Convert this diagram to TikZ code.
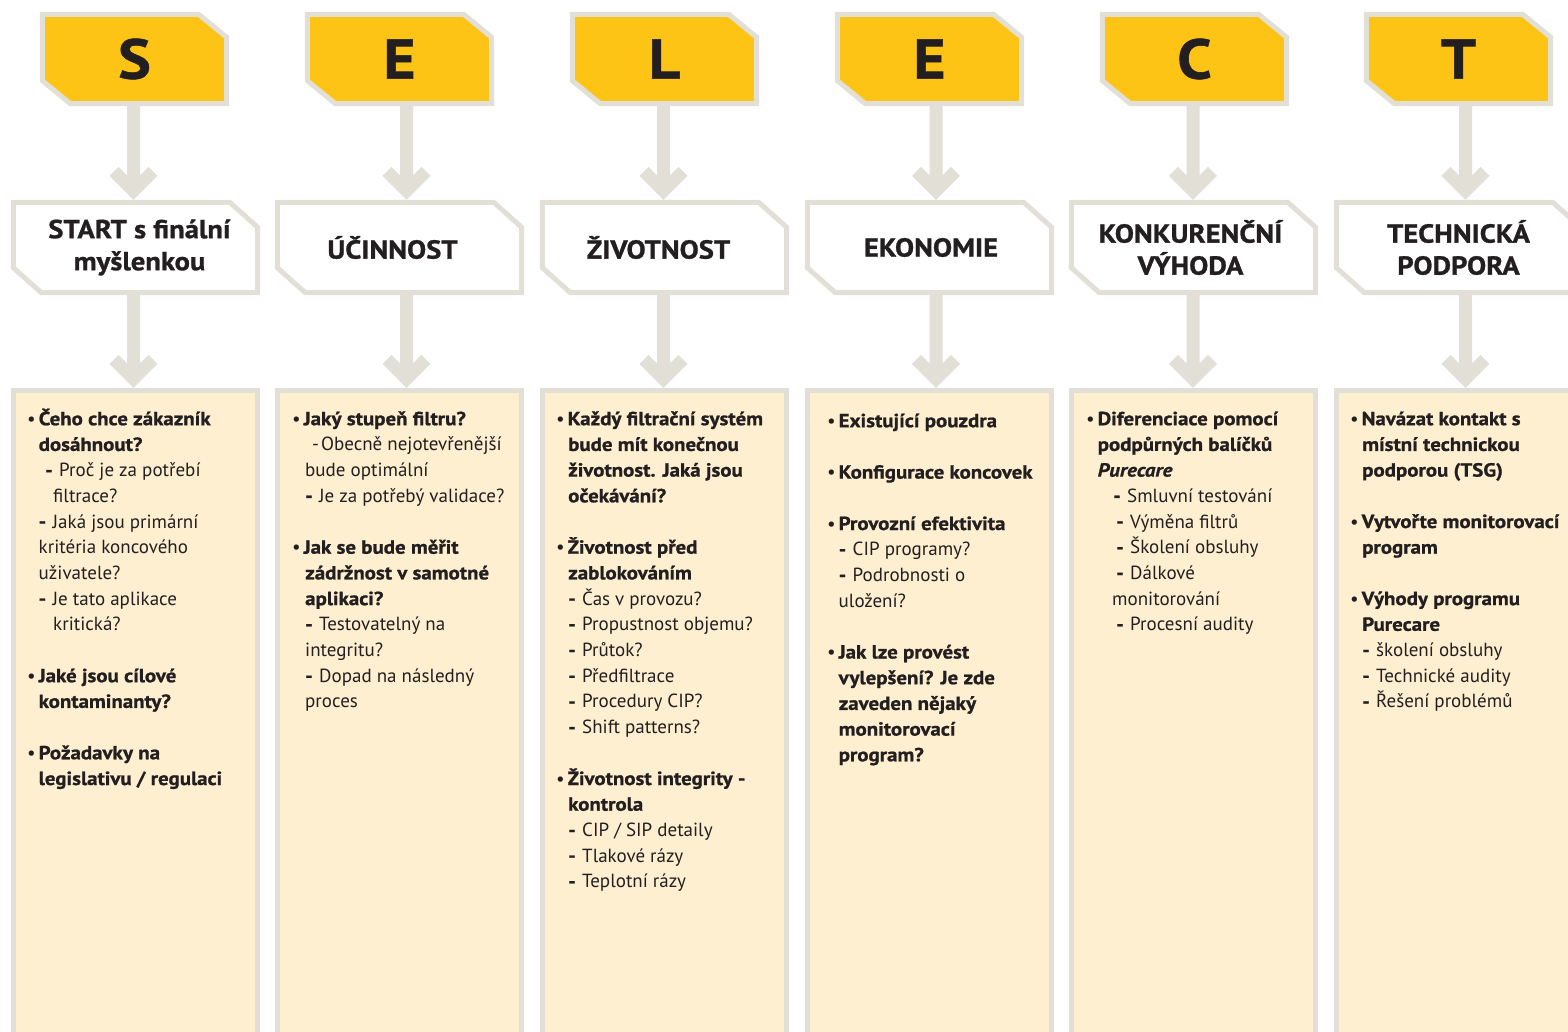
\documentclass[tikz,border=0pt]{standalone}
\usepackage{fontspec}
\setmainfont{PT Sans}[BoldFeatures={FakeStretch=1.1,FakeBold=1},BoldItalicFeatures={FakeStretch=1.1,FakeBold=1}]
\usetikzlibrary{calc}
\definecolor{selgray}{HTML}{E2DFD6}
\definecolor{selyellow}{HTML}{FDC315}
\definecolor{selcream}{HTML}{FEEFD1}
\definecolor{seltext}{HTML}{231F20}
\pgfdeclarelayer{bg}
\pgfsetlayers{bg,main}
\tikzset{
 hdrnode/.style={minimum width=189pt, minimum height=94pt, inner sep=0pt, font=\fontsize{56}{60}\selectfont\bfseries, text=seltext},
 titlenode/.style={minimum width=249pt, minimum height=95pt, inner sep=0pt, align=center, font=\fontsize{26}{32}\selectfont\bfseries, text=seltext},
 bodynode/.style={minimum width=249pt, minimum height=662pt, inner sep=0pt},
 listnode/.style={anchor=north west, inner sep=0pt, align=left, font=\fontsize{19}{25.7}\selectfont, text=seltext},
 hdrshape/.style={fill=selyellow, draw=selgray, line width=5pt},
 titleshape/.style={fill=white, draw=selgray, line width=5pt},
 bodyshape/.style={fill=selcream, draw=selgray, line width=5pt},
 connector/.style={fill=selgray},
}
\newcommand\selchamfer[4]{\draw[#1] ($(#2.north west)+(2.5,2.5)$) -- ($(#2.north east)+(-2.5-#3,2.5)$) -- ($(#2.north east)+(-2.5,2.5+#4)$) -- ($(#2.south east)+(-2.5,-2.5)$) -- ($(#2.south west)+(2.5+#3,-2.5)$) -- ($(#2.south west)+(2.5,-2.5-#4)$) -- cycle;}
\newcommand\selarrow[3]{\fill[connector] let \p1=(#2.south), \p2=(#3.north) in
  (#1pt-6.5pt,\y1) -- (#1pt-6.5pt,\y2+24.5pt) -- (#1pt-15pt,\y2+33pt) -- (#1pt-24pt,\y2+24pt) -- (#1pt,\y2) -- (#1pt+24pt,\y2+24pt) -- (#1pt+15pt,\y2+33pt) -- (#1pt+6.5pt,\y2+24.5pt) -- (#1pt+6.5pt,\y1) -- cycle;}
\newcommand\bu{\makebox[11.5pt][l]{•}}
\newcommand\ind[1]{\hspace*{#1pt}}
\newcommand\dsh{\makebox[14pt][l]{\textbf{-}}}
\newcommand\fst{\rule{0pt}{20pt}}
\begin{document}
\begin{tikzpicture}[x=1pt,y=-1pt]
\useasboundingbox (0,0) rectangle (1568,1032);
% headers
\node[hdrnode] (h1) at (134.5,59) {S};
\node[hdrnode] (h2) at (399.5,59) {E};
\node[hdrnode] (h3) at (664.5,59) {L};
\node[hdrnode] (h4) at (929.5,59) {E};
\node[hdrnode] (h5) at (1194.5,59) {C};
\node[hdrnode] (h6) at (1458.5,59) {T};
% titles
\node[titlenode] (w1) at (135.5,247.5) {\hspace*{8pt}START s finální\\\hspace*{8pt}myšlenkou};
\node[titlenode] (w2) at (399.5,247.5) {\hspace*{-14pt}ÚČINNOST};
\node[titlenode] (w3) at (664.5,247.5) {\hspace*{-12pt}ŽIVOTNOST};
\node[titlenode] (w4) at (929.5,247.5) {\hspace*{3pt}EKONOMIE};
\node[titlenode] (w5) at (1193.5,247.5) {\hspace*{-6pt}KONKURENČNÍ\\\hspace*{-6pt}VÝHODA};
\node[titlenode] (w6) at (1458.5,247.5) {TECHNICKÁ\\PODPORA};
% bodies
\node[bodynode] (b1) at (135.5,719) {};
\node[bodynode] (b2) at (399.5,719) {};
\node[bodynode] (b3) at (664.5,719) {};
\node[bodynode] (b4) at (929.5,719) {};
\node[bodynode] (b5) at (1193.5,719) {};
\node[bodynode] (b6) at (1458.5,719) {};
% lists
\node[listnode] (t1) at (27,405) {\fst\bu\textbf{Čeho chce zákazník}\\
\ind{11.5}\textbf{dosáhnout?}\\
\ind{18}\dsh Proč je za potřebí\\
\ind{26}filtrace?\\
\ind{11.5}\dsh Jaká jsou primární\\
\ind{11.5}kritéria koncového\\
\ind{11.5}uživatele?\\
\ind{11.5}\dsh Je tato aplikace\\
\ind{26}kritická?\\[25.7pt]
\bu\textbf{Jaké jsou cílové}\\
\ind{11.5}\textbf{kontaminanty?}\\[25.7pt]
\bu\textbf{Požadavky na}\\
\ind{11.5}\textbf{legislativu / regulaci}};
\node[listnode] (t2) at (292,405) {\fst\bu\textbf{Jaký stupeň filtru?}\\
\ind{20}-\hspace{2pt}Obecně nejotevřenější\\
\ind{13}bude optimální\\
\ind{13}\dsh Je za potřebý validace?\\[25.7pt]
\bu\textbf{Jak se bude měřit}\\
\ind{13}\textbf{zádržnost v samotné}\\
\ind{13}\textbf{aplikaci?}\\
\ind{13}\dsh Testovatelný na\\
\ind{13}integritu?\\
\ind{13}\dsh Dopad na následný\\
\ind{13}proces};
\node[listnode] (t3) at (556,405) {\fst\bu\textbf{Každý filtrační systém}\\
\ind{12}\textbf{bude mít konečnou}\\
\ind{12}\textbf{životnost. Jaká jsou}\\
\ind{12}\textbf{očekávání?}\\[25.7pt]
\bu\textbf{Životnost před}\\
\ind{12}\textbf{zablokováním}\\
\ind{12}\dsh Čas v provozu?\\
\ind{12}\dsh Propustnost objemu?\\
\ind{12}\dsh Průtok?\\
\ind{12}\dsh Předfiltrace\\
\ind{12}\dsh Procedury CIP?\\
\ind{12}\dsh Shift patterns?\\[25.7pt]
\bu\textbf{Životnost integrity -}\\
\ind{12}\textbf{kontrola}\\
\ind{12}\dsh CIP / SIP detaily\\
\ind{12}\dsh Tlakové rázy\\
\ind{12}\dsh Teplotní rázy};
\node[listnode] (t4) at (827,407) {\fst\bu\textbf{Existující pouzdra}\\[25.7pt]
\bu\textbf{Konfigurace koncovek}\\[25.7pt]
\bu\textbf{Provozní efektivita}\\
\ind{11.5}\dsh CIP programy?\\
\ind{11.5}\dsh Podrobnosti o\\
\ind{11.5}uložení?\\[25.7pt]
\bu\textbf{Jak lze provést}\\
\ind{11.5}\textbf{vylepšení? Je zde}\\
\ind{11.5}\textbf{zaveden nějaký}\\
\ind{11.5}\textbf{monitorovací}\\
\ind{11.5}\textbf{program?}};
\node[listnode] (t5) at (1086,405) {\fst\bu\textbf{Diferenciace pomocí}\\
\ind{11.5}\textbf{podpůrných balíčků}\\
\ind{11.5}\textbf{\textit{Purecare}}\\
\ind{27}\dsh Smluvní testování\\
\ind{30}\dsh Výměna filtrů\\
\ind{30}\dsh Školení obsluhy\\
\ind{30}\dsh Dálkové\\
\ind{26}monitorování\\
\ind{30}\dsh Procesní audity};
\node[listnode] (t6) at (1350,405) {\fst\bu\textbf{Navázat kontakt s}\\
\ind{12}\textbf{místní technickou}\\
\ind{12}\textbf{podporou (TSG)}\\[25.7pt]
\bu\textbf{Vytvořte monitorovací}\\
\ind{12}\textbf{program}\\[25.7pt]
\bu\textbf{Výhody programu}\\
\ind{12}\textbf{Purecare}\\
\ind{12}\dsh školení obsluhy\\
\ind{12}\dsh Technické audity\\
\ind{12}\dsh Řešení problémů};
\begin{pgfonlayer}{bg}
\selarrow{133.5}{h1}{w1}
\selarrow{133.5}{w1}{b1}
\selarrow{406.5}{h2}{w2}
\selarrow{406.5}{w2}{b2}
\selarrow{663.5}{h3}{w3}
\selarrow{663.5}{w3}{b3}
\selarrow{936}{h4}{w4}
\selarrow{936}{w4}{b4}
\selarrow{1193}{h5}{w5}
\selarrow{1193}{w5}{b5}
\selarrow{1465.5}{h6}{w6}
\selarrow{1465.5}{w6}{b6}
\foreach \i in {1,...,6}{
 \selchamfer{hdrshape}{h\i}{28}{23}
 \selchamfer{titleshape}{w\i}{28}{25}
 \draw[bodyshape] ($(b\i.north west)+(2.5,2.5)$) rectangle ($(b\i.south east)+(-2.5,-2.5)$);
}
\end{pgfonlayer}
\end{tikzpicture}
\end{document}
